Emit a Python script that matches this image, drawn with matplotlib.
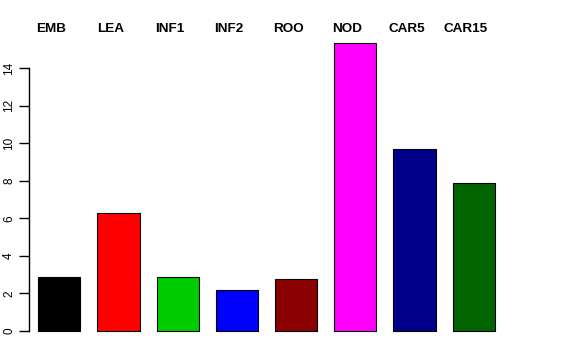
import numpy as np
import matplotlib.pyplot as plt

labels = ["EMB", "LEA", "INF1", "INF2", "ROO", "NOD", "CAR5", "CAR15"]
values = [2.89, 6.28, 2.86, 2.17, 2.77, 15.34, 9.69, 7.86]
colors = ["black", "red", "#00CD00", "blue", "#8B0000", "magenta", "#00008B", "#006400"]
yticks = [0, 2, 4, 6, 8, 10, 12, 14]

plt.rcParams['font.family'] = ['Liberation Sans', 'DejaVu Sans']

fig = plt.figure(figsize=(5.76, 3.6), dpi=100)
ax = fig.add_axes([29 / 576, 29 / 360, 511 / 576, (331 - 37.9) / 360])

x = np.arange(len(values))
ax.bar(x, values, width=0.71, color=colors, edgecolor="black", linewidth=0.8, clip_on=False)

ax.set_xlim(-0.512, 8.12)
ax.set_ylim(0, 15.6)

for s in ["top", "right", "bottom"]:
    ax.spines[s].set_visible(False)
ax.spines["left"].set_bounds(0, 14)
ax.spines["left"].set_linewidth(1)
ax.set_xticks([])
ax.set_yticks(yticks)
ax.set_yticklabels([str(t) for t in yticks], rotation=90, va="center", fontsize=8.5)
ax.tick_params(axis="y", length=7, width=1, pad=3)

# names above the plot
for i, lab in enumerate(labels):
    fig.text((59.3 + (i - 0.13) * 59.17) / 576, 1 - 29 / 360, lab,
             ha="center", va="center", fontsize=9.7, fontweight="bold")

fig.savefig("out.png", dpi=100)
